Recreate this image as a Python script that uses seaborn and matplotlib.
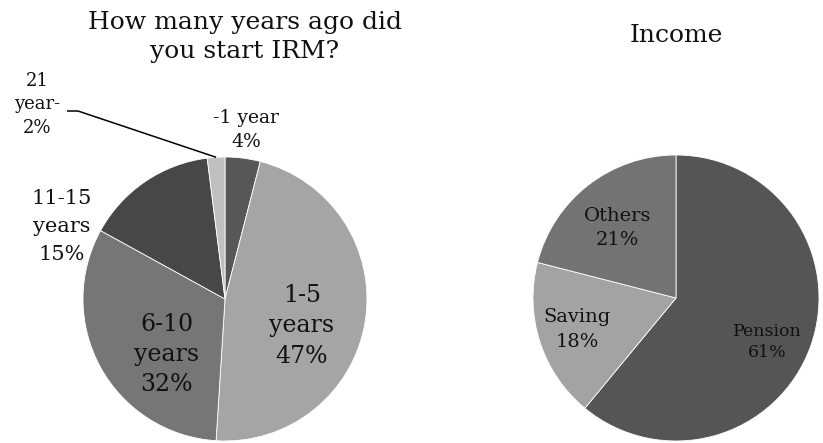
import matplotlib
matplotlib.use("Agg")
import matplotlib.pyplot as plt
import numpy as np
import seaborn as sns

# Survey results
start_labels = ["-1 year", "1-5\nyears", "6-10\nyears", "11-15\nyears", "21\nyear-"]
start_values = [4, 47, 32, 15, 2]
start_colors = ["#575757", "#a5a5a5", "#767676", "#474747", "#c0c0c0"]

income_labels = ["Pension", "Saving", "Others"]
income_values = [61, 18, 21]
income_colors = ["#555555", "#a3a3a3", "#737373"]

sns.set_theme(style="white")
plt.rcParams["font.family"] = ["DejaVu Serif"]

W, H = 823, 443
fig = plt.figure(figsize=(W / 100, H / 100), dpi=100)
ax = fig.add_axes([0, 0, 1, 1])
ax.set_xlim(0, W)
ax.set_ylim(0, H)
ax.set_aspect("equal")
ax.axis("off")


def draw_pie(center, radius, values, colors):
    wedges, _ = ax.pie(values, colors=colors, startangle=90, counterclock=False,
                       center=center, radius=radius, frame=True,
                       wedgeprops=dict(edgecolor="white", linewidth=0.6))
    return wedges


# left pie: when respondents started
c1, r1 = (225, 144), 142
w1 = draw_pie(c1, r1, start_values, start_colors)
start_offsets = [(0.15, 1.19), (0.54, -0.19), (-0.41, -0.39), (-1.15, 0.51), (-1.32, 1.37)]
start_sizes = [13.5, 17, 17, 15, 13]
start_spacing = [1.42, 1.4, 1.4, 1.62, 1.42]
for lab, val, (dx, dy), fs, ls in zip(start_labels, start_values, start_offsets,
                                      start_sizes, start_spacing):
    ax.text(c1[0] + dx * r1, c1[1] + dy * r1, f"{lab}\n{val}%", ha="center",
            va="center", fontsize=fs, linespacing=ls, color="#111111")

# leader line for the smallest slice
w = w1[-1]
mid = np.deg2rad((w.theta1 + w.theta2) / 2)
tip = (c1[0] + r1 * np.cos(mid), c1[1] + r1 * np.sin(mid))
ax.plot([67, 78, tip[0]], [H - 111, H - 111, tip[1]], color="black",
        lw=1.1, solid_capstyle="butt")

# right pie: income source
c2, r2 = (676, 145), 143
draw_pie(c2, r2, income_values, income_colors)
income_offsets = [(0.64, -0.31), (-0.69, -0.22), (-0.41, 0.49)]
income_sizes = [12.5, 14, 14]
income_spacing = [1.3, 1.45, 1.45]
for lab, val, (dx, dy), fs, ls in zip(income_labels, income_values, income_offsets,
                                      income_sizes, income_spacing):
    ax.text(c2[0] + dx * r2, c2[1] + dy * r2, f"{lab}\n{val}%", ha="center",
            va="center", fontsize=fs, linespacing=ls, color="#111111")

ax.set_xlim(0, W)
ax.set_ylim(0, H)

ax.text(245, 406, "How many years ago did\nyou start IRM?", ha="center", va="center",
        fontsize=18, linespacing=1.38, color="#111111")
ax.text(676, 408, "Income", ha="center", va="center", fontsize=18, color="#111111")

fig.savefig("out.png", dpi=100, facecolor="white")
